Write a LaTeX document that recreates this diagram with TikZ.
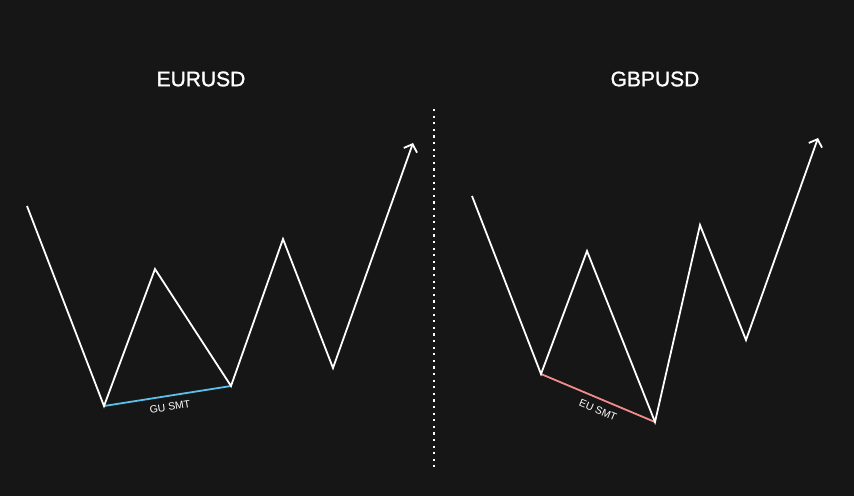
\documentclass[tikz,border=0pt]{standalone}
\usepackage{fontspec}
\setmainfont{Liberation Sans}
\newfontfamily\titlefont[FakeBold=1.3]{Liberation Sans}
\usetikzlibrary{arrows.meta}
\definecolor{bg}{HTML}{161616}
\definecolor{smtblue}{HTML}{5BC0EB}
\definecolor{smtred}{HTML}{F08C8C}
\begin{document}
\begin{tikzpicture}[x=1pt,y=-1pt,
  wave/.style={draw=white,line width=1.8pt,line join=miter},
  title/.style={text=white,font=\titlefont\fontsize{21}{24}\selectfont},
  smtlabel/.style={text=white,inner sep=0pt,font=\fontsize{10.5}{12}\selectfont},
  tip/.style={-{Straight Barb[length=6.5pt,width=14pt,line width=1.8pt]}}]
\fill[bg] (0,0) rectangle (854,496);
\useasboundingbox (0,0) rectangle (854,496);
% titles
\node[title] (t1) at (201,79) {EURUSD};
\node[title] (t2) at (655,79) {GBPUSD};
% divider
\coordinate (d1) at (434,109);
\coordinate (d2) at (434,467);
\draw[white,line width=2.2pt,dash pattern=on 2.2pt off 4.4pt] (d1) -- (d2);
% left
\coordinate (a0) at (27,206);
\coordinate (a1) at (104,406);
\coordinate (a2) at (155,269);
\coordinate (a3) at (231,386);
\coordinate (a4) at (283,239);
\coordinate (a5) at (333,368);
\coordinate (a6) at (413,143);
\draw[smtblue,line width=1.8pt] (a1) -- (a3);
\draw[wave,tip] (a0) -- (a1) -- (a2) -- (a3) -- (a4) -- (a5) -- (a6);
\node[smtlabel,rotate=8.9] (l1) at (170,407) {GU SMT};
% right
\coordinate (b0) at (472,196);
\coordinate (b1) at (541,374);
\coordinate (b2) at (587,251);
\coordinate (b3) at (655,422);
\coordinate (b4) at (700,225);
\coordinate (b5) at (746,340);
\coordinate (b6) at (818,138);
\draw[smtred,line width=1.8pt] (b1) -- (b3);
\draw[wave,tip] (b0) -- (b1) -- (b2) -- (b3) -- (b4) -- (b5) -- (b6);
\node[smtlabel,rotate=-22.8] (l2) at (598,410) {EU SMT};
\end{tikzpicture}
\end{document}
